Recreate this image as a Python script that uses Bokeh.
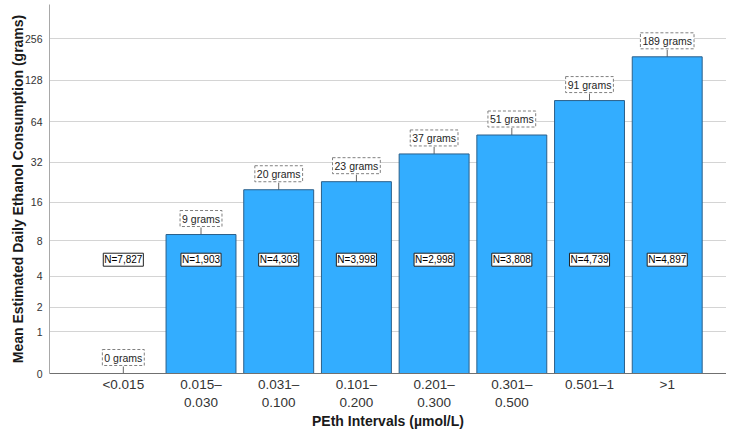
import numpy as np
from bokeh.plotting import figure
from bokeh.models import ColumnDataSource, FixedTicker, Range1d, CustomJSTickFormatter
from bokeh.core.properties import value
from bokeh.embed import file_html
from bokeh.resources import INLINE

# ---- data ----
categories = ["<0.015", "0.015–\n0.030", "0.031–\n0.100", "0.101–\n0.200",
              "0.201–\n0.300", "0.301–\n0.500", "0.501–1", ">1"]
mean_grams = [0, 9, 20, 23, 37, 51, 91, 189]
n_counts = ["7,827", "1,903", "4,303", "3,998", "2,998", "3,808", "4,739", "4,897"]
y_tick_values = [0, 1, 2, 4, 8, 16, 32, 64, 128, 256]

FONT = "Liberation Sans"

# safe-log (log2(x+1)) scale, as in the original chart
def safelog(v):
    return np.log2(np.asarray(v, dtype=float) + 1.0)

xs = list(range(len(categories)))
src = ColumnDataSource(dict(
    x=xs,
    top=safelog(mean_grams),
    gram_text=[f"{g} grams" for g in mean_grams],
    n_text=[f"N={n}" for n in n_counts],
    n_y=[2.72] * len(xs),
))

p = figure(width=726, height=431, output_backend="svg", toolbar_location=None,
           x_range=Range1d(-0.95, 7.763), y_range=Range1d(0, 8.82),
           min_border_left=49, min_border_right=0, min_border_top=4,
           min_border_bottom=57)
p.outline_line_color = None
p.background_fill_color = "white"

# connectors (drawn first, so the bars cover their lower half)
p.scatter("x", "top", source=src, marker="dash", angle=np.pi / 2, size=14,
          line_color="#666666", line_width=1)

p.vbar(x="x", top="top", bottom=0, width=0.9, source=src,
       fill_color="#33adff", line_color="#2b5f8a", line_width=1)

# value labels in dashed boxes
p.text(x="x", y="top", text="gram_text", source=src,
       text_font=value(FONT), text_font_size="10.5px", text_color="#1e1e1e",
       text_align="center", text_baseline="bottom", y_offset=-8,
       padding=2, background_fill_color="white",
       border_line_color="#808080", border_line_dash="3 2", border_line_width=1)

# N labels in solid boxes
p.text(x="x", y="n_y", text="n_text", source=src,
       text_font=value(FONT), text_font_size="10px", text_color="#000000",
       text_align="center", text_baseline="middle",
       padding=1, background_fill_color="white",
       border_line_color="#222222", border_line_width=1)

# y axis
p.yaxis.ticker = FixedTicker(ticks=list(safelog(y_tick_values)))
p.yaxis.formatter = CustomJSTickFormatter(code="return String(Math.round(Math.pow(2, tick) - 1));")
p.yaxis.major_tick_line_color = None
p.yaxis.minor_tick_line_color = None
p.yaxis.major_tick_out = 0
p.yaxis.major_tick_in = 0
p.yaxis.minor_tick_out = 0
p.yaxis.minor_tick_in = 0
p.yaxis.axis_line_color = "#a8a8a8"
p.yaxis.major_label_text_font = FONT
p.yaxis.major_label_text_font_size = "10.5px"
p.yaxis.major_label_text_color = "#333333"
p.yaxis.major_label_standoff = 7
p.yaxis.axis_label = "Mean Estimated Daily Ethanol Consumption (grams)"
p.yaxis.axis_label_text_font = FONT
p.yaxis.axis_label_text_font_size = "14px"
p.yaxis.axis_label_text_font_style = "bold"
p.yaxis.axis_label_text_color = "#1a1a1a"
p.yaxis.axis_label_standoff = -4

p.ygrid.ticker = FixedTicker(ticks=list(safelog(y_tick_values)))
p.ygrid.grid_line_color = "#d4d4d4"
p.xgrid.grid_line_color = None

# x axis
p.xaxis.ticker = FixedTicker(ticks=xs)
p.xaxis.major_label_overrides = {i: c for i, c in zip(xs, categories)}
p.xaxis.major_tick_line_color = None
p.xaxis.minor_tick_line_color = None
p.xaxis.major_tick_out = 0
p.xaxis.major_tick_in = 0
p.xaxis.minor_tick_out = 0
p.xaxis.minor_tick_in = 0
p.xaxis.axis_line_color = "#707070"
p.xaxis.major_label_text_font = FONT
p.xaxis.major_label_text_font_size = "13.5px"
p.xaxis.major_label_text_color = "#333333"
p.xaxis.major_label_standoff = 3
p.xaxis.axis_label = "PEth Intervals (µmol/L)"
p.xaxis.axis_label_text_font = FONT
p.xaxis.axis_label_text_font_size = "14px"
p.xaxis.axis_label_text_font_style = "bold"
p.xaxis.axis_label_text_color = "#1a1a1a"
p.xaxis.axis_label_standoff = 0

open("out.html", "w").write(file_html(p, INLINE))
